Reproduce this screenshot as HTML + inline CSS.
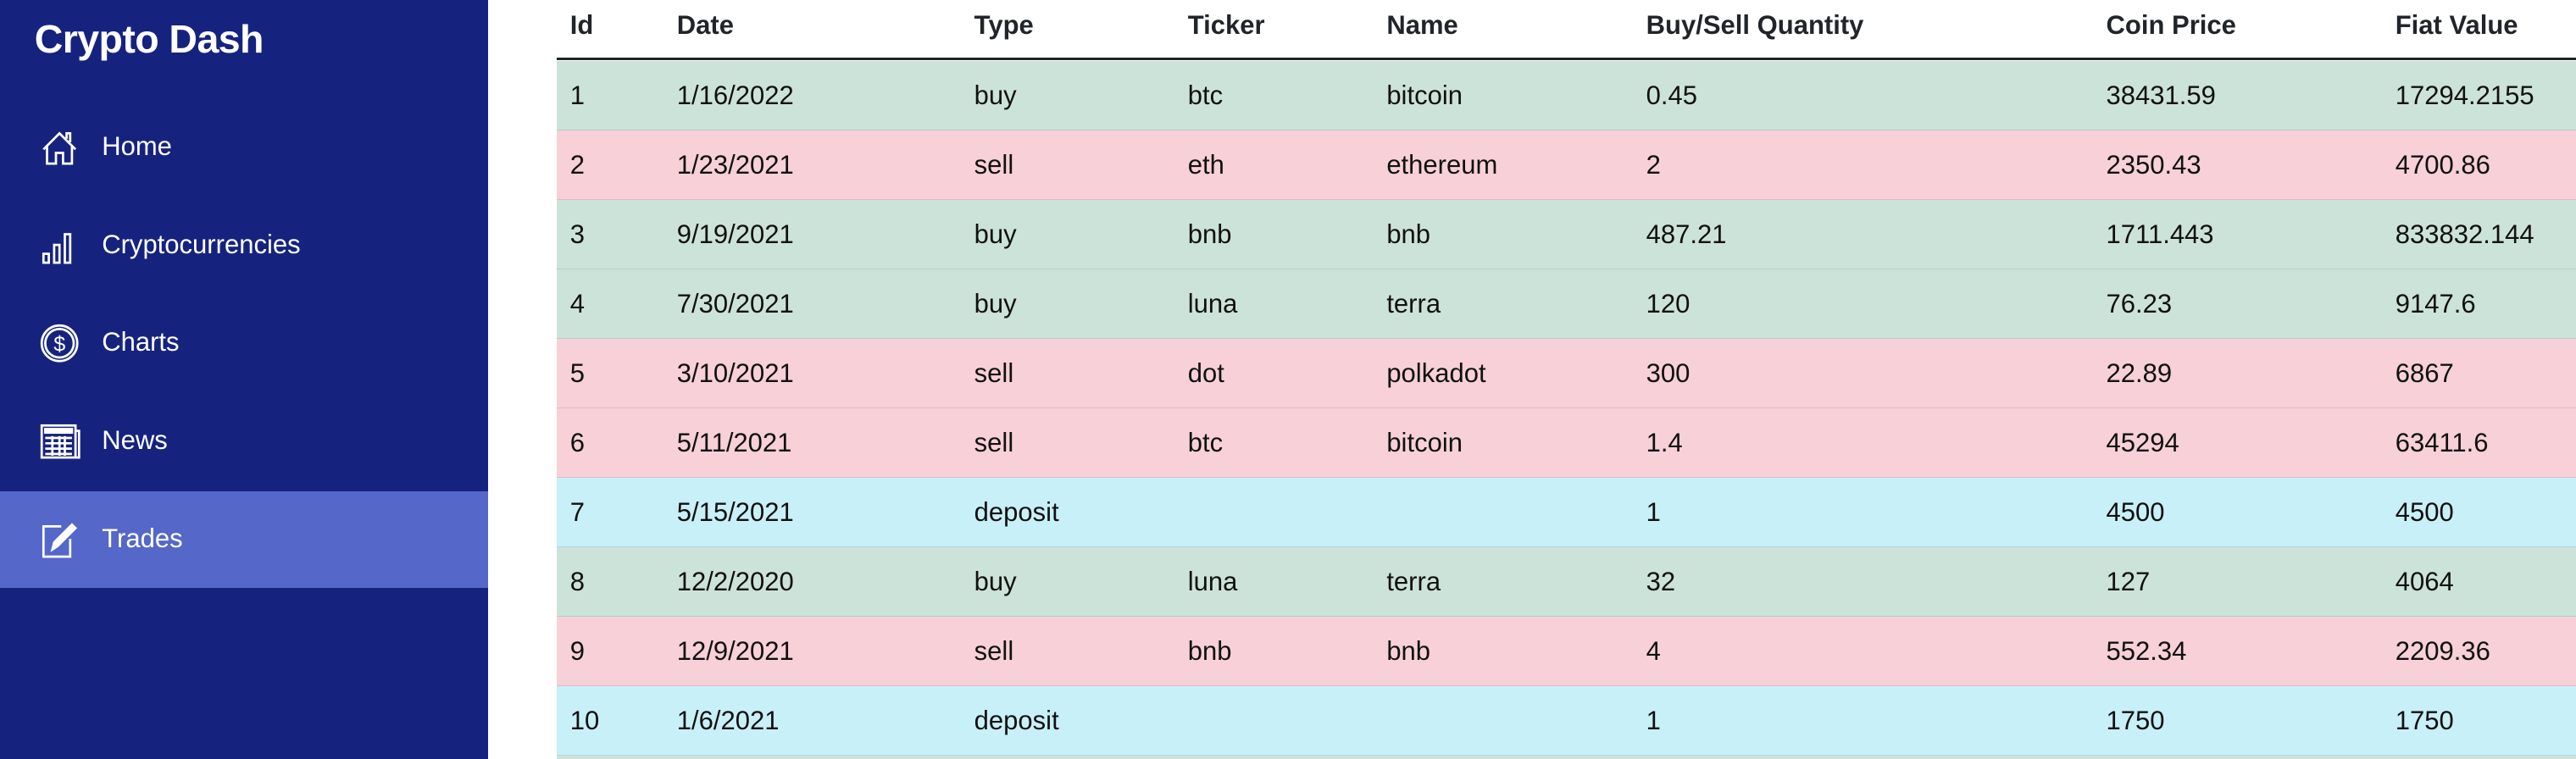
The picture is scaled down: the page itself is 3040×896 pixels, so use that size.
<!DOCTYPE html>
<html><head><meta charset="utf-8"><style>
html,body{margin:0;padding:0;width:3040px;height:896px;overflow:hidden;background:#fff;}
#wrap{zoom:1.93878;width:1568px;height:462px;position:relative;overflow:hidden;font-family:"Liberation Sans",sans-serif;}
#side{position:absolute;left:0;top:0;width:297px;height:462px;background:#16237e;color:#fff;}
#title{position:absolute;left:21px;top:10px;font-size:24px;font-weight:bold;letter-spacing:-0.3px;}
.nav{position:absolute;left:0;width:297px;height:59px;}
.nav.active{background:#5567c8;}
.nav svg{position:absolute;left:23px;top:17px;width:26px;height:26px;}
.nav span{position:absolute;left:62px;top:20px;font-size:16px;}
#tbl{position:absolute;left:339px;top:0;width:1229px;height:462px;overflow:hidden;}
.row{position:absolute;left:0;width:1229px;height:42px;font-size:16px;color:#111;}
.row.last{height:2px;border-bottom:none;}
.row div,.hd div{position:absolute;top:12px;white-space:nowrap;}
.hd{position:absolute;left:0;top:0;width:1229px;height:35px;border-bottom:2px solid #212529;font-weight:bold;font-size:16px;color:#212529;}
.hd div{top:6px;}
.buy{background:#cce3da;border-bottom:1px solid #b3cfc4;}
.sell{background:#f7d1d7;border-bottom:1px solid #e3babf;}
.deposit{background:#c8f0f8;border-bottom:1px solid #b0dbe3;}
</style></head><body><div id="wrap">
<div id="side">
<div id="title">Crypto Dash</div>
<div class="nav" style="top:60px"><svg viewBox="0 0 24 24" fill="none" stroke="#fff" stroke-width="1.3"><path d="M3 13 L12 4 L21 13 M5 11 V21 H10 V15 H14 V21 H19 V11 M16 7 V4 H18 V9"/></svg><span>Home</span></div>
<div class="nav" style="top:120px"><svg viewBox="0 0 24 24" fill="none" stroke="#fff" stroke-width="1.3"><rect x="3" y="16" width="3" height="5"/><rect x="9" y="11" width="3" height="10"/><rect x="15" y="5" width="3" height="16"/></svg><span>Cryptocurrencies</span></div>
<div class="nav" style="top:179px"><svg viewBox="0 0 24 24" fill="none" stroke="#fff" stroke-width="1.3"><circle cx="12" cy="12" r="10"/><circle cx="12" cy="12" r="8"/><text x="12" y="16.5" font-size="12" fill="#fff" stroke="none" text-anchor="middle" font-family="Liberation Sans">$</text></svg><span>Charts</span></div>
<div class="nav" style="top:239px"><svg viewBox="0 0 24 24" fill="none" stroke="#fff" stroke-width="1.3"><rect x="2" y="3" width="19" height="18"/><path d="M21 6 H23 V21 H21" /><rect x="4" y="5" width="15" height="2" fill="#fff"/><path d="M4 10 H19 M4 13 H19 M4 16 H19 M4 19 H19 M8 9 V20 M12 9 V20 M15 9 V20"/></svg><span>News</span></div>
<div class="nav active" style="top:299px"><svg viewBox="0 0 24 24" fill="none" stroke="#fff" stroke-width="1.3"><path d="M13 4 H3 V21 H18 V11"/><path d="M8 17 L9 13 L19 3 L21 5 L11 15 Z" fill="#fff"/></svg><span>Trades</span></div>
</div>
<div id="tbl"></div>
</div>
<script>
const cols=[8,73,254,384,505,663,943,1119];
const headers=["Id","Date","Type","Ticker","Name","Buy/Sell Quantity","Coin Price","Fiat Value"];
const rows=[
["1","1/16/2022","buy","btc","bitcoin","0.45","38431.59","17294.2155"],
["2","1/23/2021","sell","eth","ethereum","2","2350.43","4700.86"],
["3","9/19/2021","buy","bnb","bnb","487.21","1711.443","833832.144"],
["4","7/30/2021","buy","luna","terra","120","76.23","9147.6"],
["5","3/10/2021","sell","dot","polkadot","300","22.89","6867"],
["6","5/11/2021","sell","btc","bitcoin","1.4","45294","63411.6"],
["7","5/15/2021","deposit","","","1","4500","4500"],
["8","12/2/2020","buy","luna","terra","32","127","4064"],
["9","12/9/2021","sell","bnb","bnb","4","552.34","2209.36"],
["10","1/6/2021","deposit","","","1","1750","1750"],
["11","","buy","","","","",""]
];
const tbl=document.getElementById('tbl');
const hd=document.createElement('div');hd.className='hd';


headers.forEach((h,i)=>{const d=document.createElement('div');d.style.left=cols[i]+'px';d.textContent=h;


hd.appendChild(d);});
tbl.appendChild(hd);
rows.forEach((r,k)=>{const row=document.createElement('div');row.className='row '+r[2]+(k>=10?' last':'');
row.style.top=(37+k*42.3)+'px';


if(k<10)r.forEach((v,i)=>{const d=document.createElement('div');d.style.left=cols[i]+'px';d.textContent=v;


row.appendChild(d);});
tbl.appendChild(row);});
</script></body></html>
